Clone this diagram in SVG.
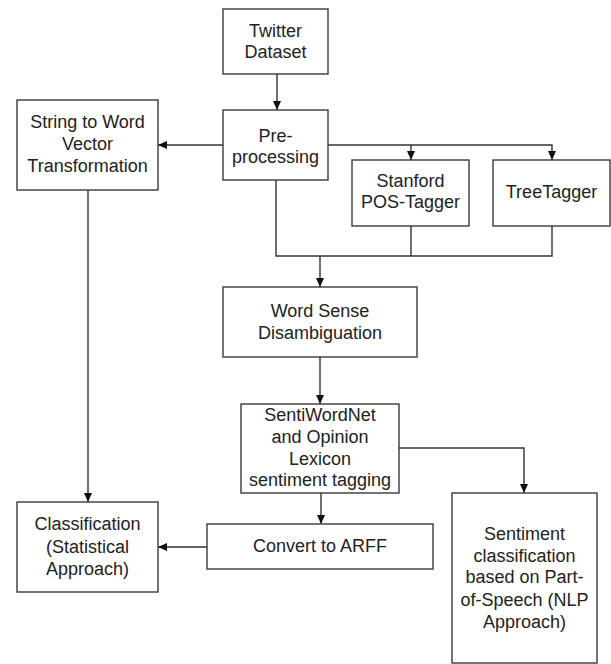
<svg xmlns="http://www.w3.org/2000/svg" width="611" height="664" viewBox="0 0 611 664">
<style>
.box{fill:#fff;stroke:#3a3a3a;stroke-width:1.4}
.t{font-family:"Liberation Sans",Arial,sans-serif;font-size:18px;fill:#222;text-anchor:middle}
.c{fill:none;stroke:#333;stroke-width:1.4}
</style>
<defs>
<marker id="ah" markerWidth="9" markerHeight="9" refX="9" refY="4.5" orient="auto" markerUnits="userSpaceOnUse">
<path d="M0,0.5 L9,4.5 L0,8.5 Z" fill="#111"/>
</marker>
</defs>
<rect width="611" height="664" fill="#fff"/>
<g id="connectors">
<path class="c" d="M277,74 V110" marker-end="url(#ah)"/>
<path class="c" d="M223,145 H158" marker-end="url(#ah)"/>
<path class="c" d="M328,145 H552 V160" marker-end="url(#ah)"/>
<path class="c" d="M411,145 V160" marker-end="url(#ah)"/>
<path class="c" d="M276,180 V256 H552 V226"/>
<path class="c" d="M411,226 V256"/>
<path class="c" d="M320,256 V287" marker-end="url(#ah)"/>
<path class="c" d="M320,357 V404" marker-end="url(#ah)"/>
<path class="c" d="M321,493 V524" marker-end="url(#ah)"/>
<path class="c" d="M399,448 H524 V493" marker-end="url(#ah)"/>
<path class="c" d="M207,547 H158" marker-end="url(#ah)"/>
<path class="c" d="M88,190 V502" marker-end="url(#ah)"/>
</g>
<g id="twitter">
<rect class="box" x="223" y="9" width="105" height="65"/>
<text class="t" x="275.5" y="37">Twitter</text>
<text class="t" x="275.5" y="58">Dataset</text>
</g>
<g id="preprocessing">
<rect class="box" x="223" y="110" width="105" height="70"/>
<text class="t" x="275.5" y="142">Pre-</text>
<text class="t" x="275.5" y="163">processing</text>
</g>
<g id="string2word">
<rect class="box" x="17" y="100" width="141" height="90"/>
<text class="t" x="87.5" y="128">String to Word</text>
<text class="t" x="87.5" y="150">Vector</text>
<text class="t" x="87.5" y="172">Transformation</text>
</g>
<g id="stanford">
<rect class="box" x="352" y="160" width="117" height="66"/>
<text class="t" x="410.5" y="187">Stanford</text>
<text class="t" x="410.5" y="208">POS-Tagger</text>
</g>
<g id="treetagger">
<rect class="box" x="493" y="160" width="117" height="66"/>
<text class="t" x="551.5" y="198">TreeTagger</text>
</g>
<g id="wsd">
<rect class="box" x="223" y="287" width="194" height="70"/>
<text class="t" x="320" y="317">Word Sense</text>
<text class="t" x="320" y="339">Disambiguation</text>
</g>
<g id="sentiwordnet">
<rect class="box" x="241" y="404" width="158" height="89"/>
<text class="t" x="320" y="421">SentiWordNet</text>
<text class="t" x="320" y="443">and Opinion</text>
<text class="t" x="320" y="465">Lexicon</text>
<text class="t" x="320" y="486">sentiment tagging</text>
</g>
<g id="convert">
<rect class="box" x="207" y="524" width="226" height="45"/>
<text class="t" x="320" y="552">Convert to ARFF</text>
</g>
<g id="classification">
<rect class="box" x="17" y="502" width="141" height="90"/>
<text class="t" x="87.5" y="530">Classification</text>
<text class="t" x="87.5" y="553">(Statistical</text>
<text class="t" x="87.5" y="575">Approach)</text>
</g>
<g id="sentiment">
<rect class="box" x="452" y="493" width="145" height="170"/>
<text class="t" x="524.5" y="540">Sentiment</text>
<text class="t" x="524.5" y="562">classification</text>
<text class="t" x="524.5" y="583">based on Part-</text>
<text class="t" x="524.5" y="606">of-Speech (NLP</text>
<text class="t" x="524.5" y="628">Approach)</text>
</g>
</svg>
